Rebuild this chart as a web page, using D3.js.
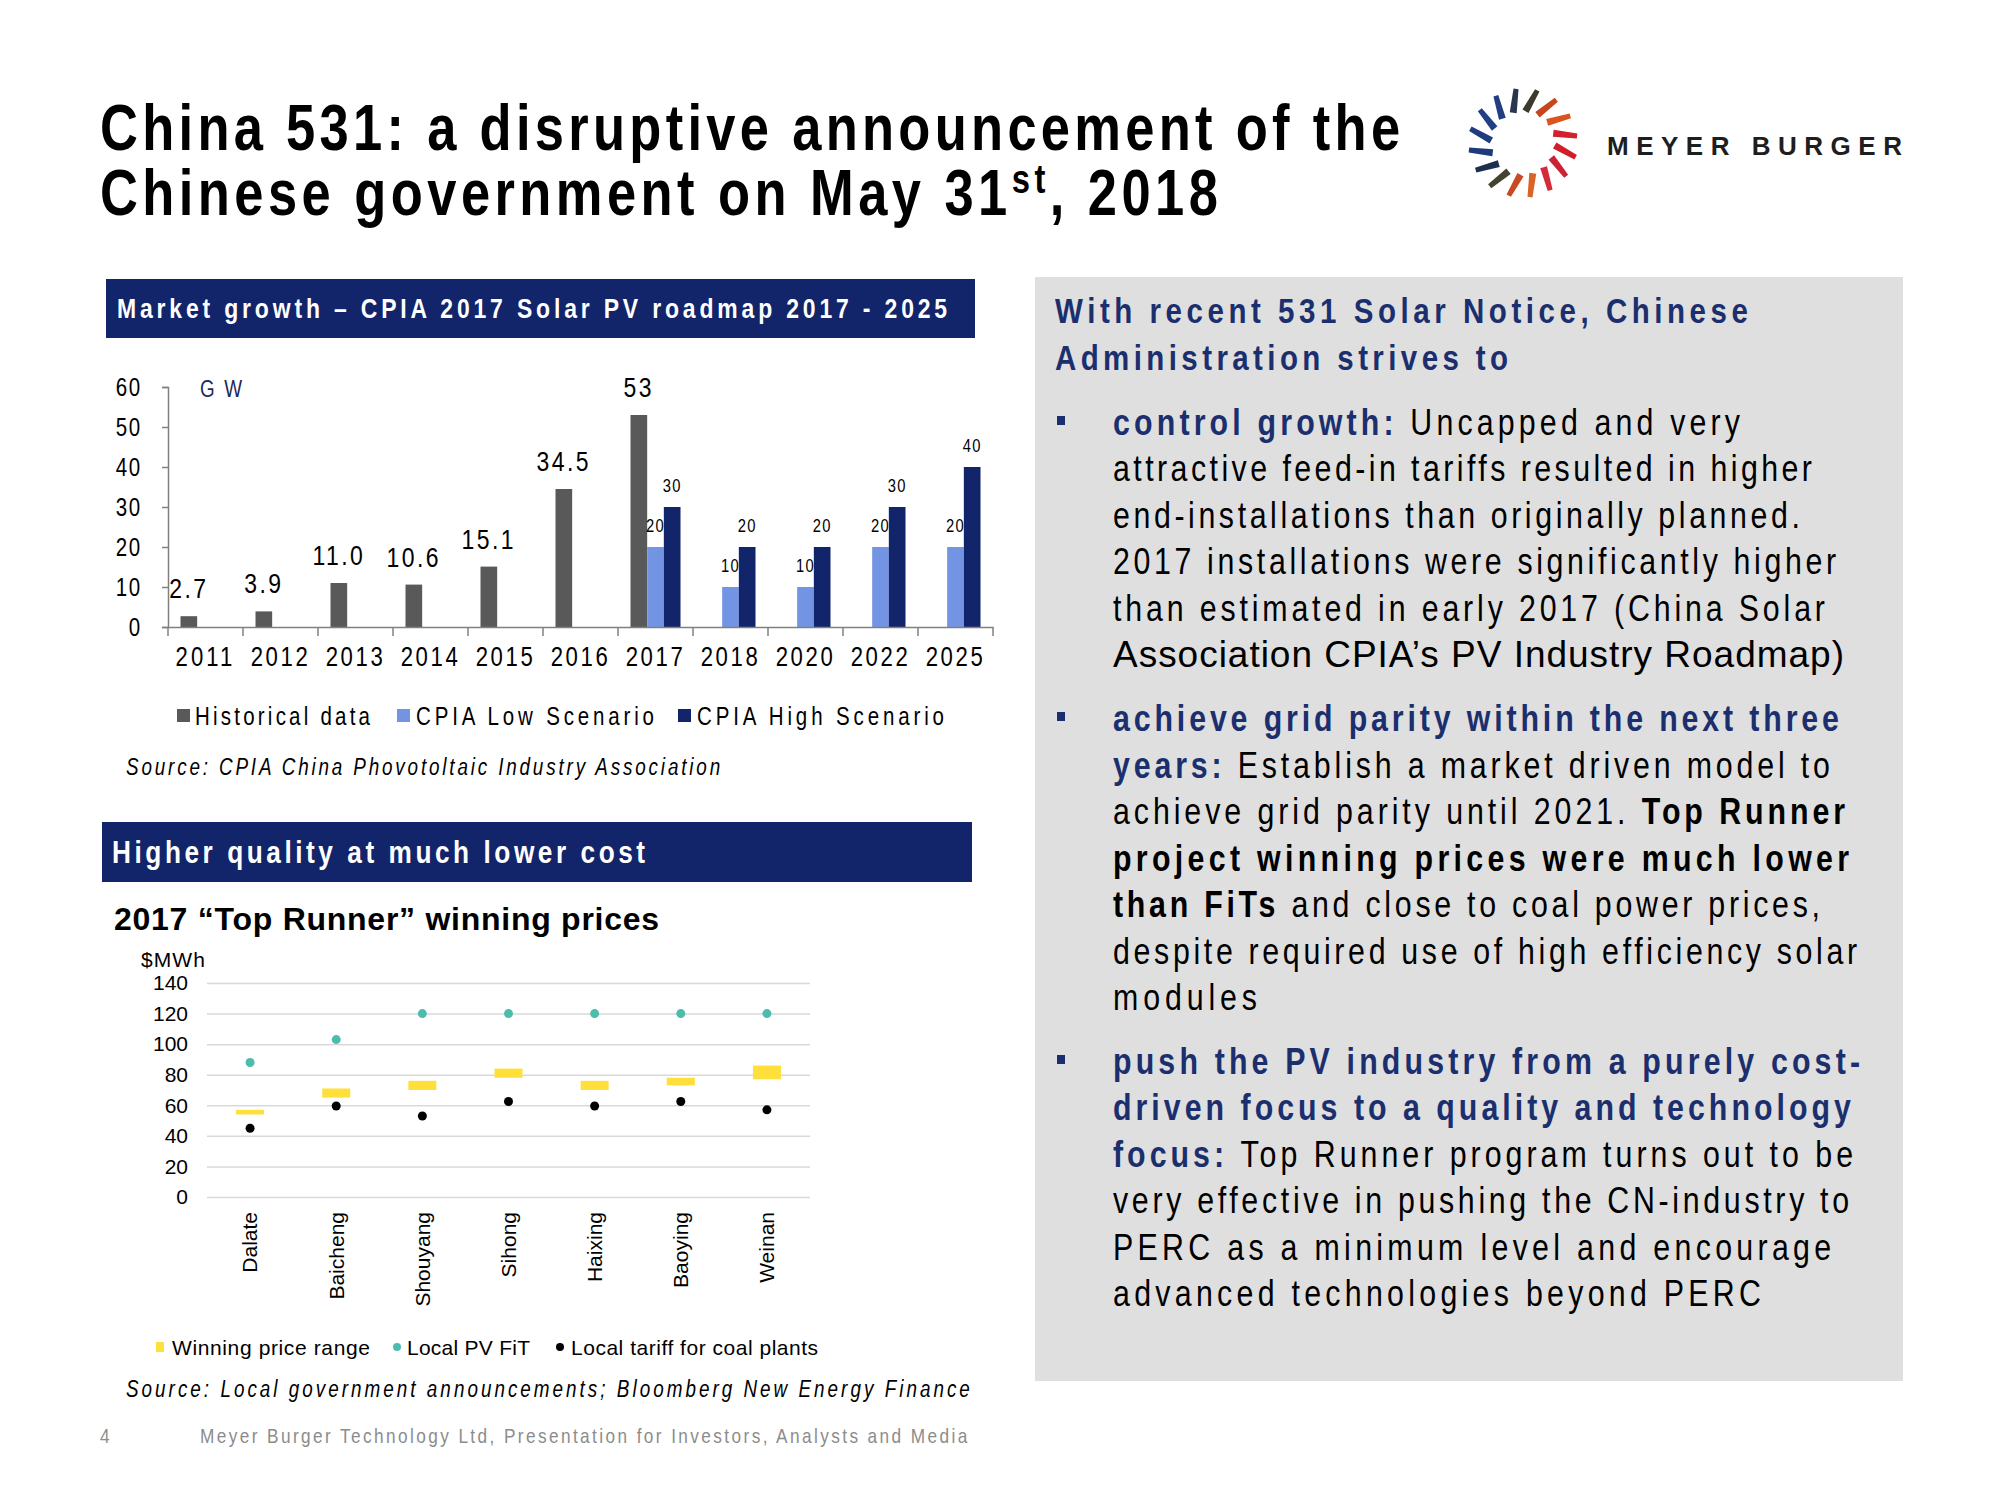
<!DOCTYPE html>
<html>
<head>
<meta charset="utf-8">
<script src="https://cdn.jsdelivr.net/npm/d3@7"></script>
<style>
  body { margin: 0; background: #fff; }
  svg { display: block; }
</style>
</head>
<body>
<svg id="slide" width="2000" height="1500"></svg>
<script>
// ---------------- data ----------------
var years        = ["2011","2012","2013","2014","2015","2016","2017","2018","2020","2022","2025"];
var historical   = [2.7, 3.9, 11.0, 10.6, 15.1, 34.5, 53, null, null, null, null];
var histLabels   = ["2.7","3.9","11.0","10.6","15.1","34.5","53","","","",""];
var lowScenario  = [null, null, null, null, null, null, 20, 10, 10, 20, 20];
var highScenario = [null, null, null, null, null, null, 30, 20, 20, 30, 40];
var gwTicks      = [0, 10, 20, 30, 40, 50, 60];

var sites      = ["Dalate","Baicheng","Shouyang","Sihong","Haixing","Baoying","Weinan"];
var priceLow   = [54, 65, 70, 78, 70, 73, 77];
var priceHigh  = [57, 71, 76, 84, 76, 78, 86];
var pvFit      = [88, 103, 120, 120, 120, 120, 120];
var coalTariff = [45, 59.5, 53, 62.5, 59.5, 62.5, 57];
var priceTicks = [0, 20, 40, 60, 80, 100, 120, 140];

// no Arial Narrow in the sandbox: squeeze Liberation Sans horizontally instead
var SX     = 0.82;
var NARROW = "'Liberation Sans',Arial,sans-serif";
var ARIAL  = "'Liberation Sans',Arial,sans-serif";
var NAVY   = "#12246a";

var svg = d3.select("#slide");
svg.append("rect").attr("width", 2000).attr("height", 1500).attr("fill", "#fff");

// stretch letter spacing so a line covers the width seen on the slide
function fit(t, w) {
  t.attr("letter-spacing", 0);
  var n = t.text().length;
  var nat = t.node().getComputedTextLength();
  t.attr("letter-spacing", ((w - nat) / Math.max(1, n - 1)).toFixed(2));
  return t;
}

function txt(g, x, y, s, size, opts) {
  opts = opts || {};
  var sx = opts.wide ? 1 : SX;
  var t = g.append("g").attr("transform", "translate(" + x + "," + y + ") scale(" + sx + ",1)")
    .append("text")
    .style("font-family", opts.wide ? ARIAL : NARROW)
    .style("font-size", size + "px")
    .style("font-weight", opts.weight || "normal")
    .style("font-style", opts.style || "normal")
    .attr("fill", opts.fill || "#000")
    .attr("text-anchor", opts.anchor || "start")
    .text(s);
  if (opts.w) fit(t, opts.w / sx);
  return t;
}

//////////////////////////////////////////////////////////////
// TITLE + LOGO
//////////////////////////////////////////////////////////////
var title = svg.append("g");
txt(title, 100, 150, "China 531: a disruptive announcement of the", 64, {weight: "bold", w: 1300});
var t2 = title.append("g").attr("transform", "translate(100,215) scale(" + SX + ",1)").append("text")
  .style("font-family", NARROW).style("font-size", "64px").style("font-weight", "bold");
t2.append("tspan").text("Chinese government on May 31");
t2.append("tspan").text("st").style("font-size", "40px").attr("dy", -22);
t2.append("tspan").text(", 2018").attr("dy", 22);
fit(t2, 1118 / SX);

var rayColors = ["#3d3a2c","#c8461e","#d9541e","#d4202a","#d01f2b","#cc2233","#d42a3a","#d9642a",
                 "#c94a20","#45432f","#1d2f50","#1e3a7a","#1f3c80","#203f85","#213e82","#2a3550"];
var logo = svg.append("g").attr("transform", "translate(1523,143)");
rayColors.forEach(function(c, i) {
  var ang = 11.25 + i * 22.5;
  logo.append("g").attr("transform", "rotate(" + ang + ") translate(0,-43) rotate(18)")
    .append("path")
    .attr("d", "M-3.5,12 L3.5,12 L2.5,-12 L-2.5,-12 Z")
    .attr("fill", c);
});
txt(svg, 1607, 155, "MEYER BURGER", 26, {wide: true, weight: "bold", fill: "#1e1e1e", w: 295});

//////////////////////////////////////////////////////////////
// MARKET GROWTH BAR CHART
//////////////////////////////////////////////////////////////
svg.append("rect").attr("x", 106).attr("y", 279).attr("width", 869).attr("height", 59).attr("fill", NAVY);
txt(svg, 117, 318, "Market growth \u2013 CPIA 2017 Solar PV roadmap 2017 - 2025", 28,
    {weight: "bold", fill: "#fff", w: 830});

var x = d3.scaleBand().domain(years).range([168, 993]);
var xs = d3.scaleBand().domain(["hist","low","high"]).range([0, x.bandwidth()]).paddingOuter(0.75);
var y = d3.scaleLinear().domain([0, 60]).range([627, 387]);

var bars = svg.append("g");
var series = [
  {key: "hist", vals: historical,   color: "#595959"},
  {key: "low",  vals: lowScenario,  color: "#7393e3"},
  {key: "high", vals: highScenario, color: "#12256a"}
];
series.forEach(function(s) {
  bars.selectAll(null).data(years.map(function(yr, i) { return {yr: yr, v: s.vals[i]}; })
      .filter(function(d) { return d.v != null; }))
    .join("rect")
    .attr("x", function(d) { return x(d.yr) + xs(s.key); })
    .attr("y", function(d) { return y(d.v); })
    .attr("width", xs.bandwidth())
    .attr("height", function(d) { return y(0) - y(d.v); })
    .attr("fill", s.color);
});

// axes
var yAxis = svg.append("g").attr("transform", "translate(168,0)")
  .call(d3.axisLeft(y).tickValues(gwTicks).tickSize(6).tickPadding(26));
yAxis.select(".domain").attr("stroke", "#808080").attr("stroke-width", 1.5);
yAxis.selectAll(".tick line").attr("stroke", "#808080").attr("stroke-width", 1.5);
yAxis.selectAll(".tick text").style("font-family", NARROW).style("font-size", "25px")
  .attr("letter-spacing", 2).attr("fill", "#000").attr("transform", "scale(" + SX + ",1)");

var xAxis = svg.append("g").attr("transform", "translate(0,627)")
  .call(d3.axisBottom(x).tickSize(0).tickPadding(20));
xAxis.select(".domain").attr("stroke", "#808080").attr("stroke-width", 1.5);
xAxis.selectAll(".tick text").style("font-family", NARROW).style("font-size", "27px")
  .attr("fill", "#000").attr("transform", "scale(" + SX + ",1)")
  .each(function() { fit(d3.select(this), 57 / SX); });
svg.append("g").selectAll("line").data(years.concat(["end"])).join("line")
  .attr("x1", function(d, i) { return 168 + i * x.step(); })
  .attr("x2", function(d, i) { return 168 + i * x.step(); })
  .attr("y1", 627).attr("y2", 636).attr("stroke", "#808080").attr("stroke-width", 1.5);

txt(svg, 200, 397, "GW", 23, {fill: "#1b2a5e", w: 42});

// value labels
svg.append("g").selectAll("text")
  .data(years.map(function(yr, i) { return {yr: yr, v: historical[i], l: histLabels[i]}; })
    .filter(function(d) { return d.v != null; }))
  .join("text")
  .attr("transform", function(d) {
    return "translate(" + (x(d.yr) + xs("hist") + xs.bandwidth() / 2) + "," + (y(d.v) - 18) + ") scale(" + SX + ",1)";
  })
  .attr("text-anchor", "middle")
  .style("font-family", NARROW).style("font-size", "28px").attr("letter-spacing", 3)
  .text(function(d) { return d.l; });

[["low", lowScenario], ["high", highScenario]].forEach(function(s) {
  svg.append("g").selectAll("text")
    .data(years.map(function(yr, i) { return {yr: yr, v: s[1][i]}; })
      .filter(function(d) { return d.v != null; }))
    .join("text")
    .attr("transform", function(d) {
      return "translate(" + (x(d.yr) + xs(s[0]) + xs.bandwidth() / 2) + "," + (y(d.v) - 15) + ") scale(" + SX + ",1)";
    })
    .attr("text-anchor", "middle")
    .style("font-family", NARROW).style("font-size", "18px").attr("letter-spacing", 1.5)
    .text(function(d) { return d.v; });
});

// legend
var leg1 = [["Historical data", "#595959", 177, 195, 175],
            ["CPIA Low Scenario", "#7393e3", 397, 416, 238],
            ["CPIA High Scenario", "#12256a", 678, 697, 247]];
leg1.forEach(function(l) {
  svg.append("rect").attr("x", l[2]).attr("y", 709).attr("width", 13).attr("height", 13).attr("fill", l[1]);
  txt(svg, l[3], 725, l[0], 25, {w: l[4]});
});
txt(svg, 126, 775, "Source: CPIA China Phovotoltaic Industry Association", 23, {style: "italic", w: 594});

//////////////////////////////////////////////////////////////
// TOP RUNNER PRICES
//////////////////////////////////////////////////////////////
svg.append("rect").attr("x", 102).attr("y", 822).attr("width", 870).attr("height", 60).attr("fill", NAVY);
txt(svg, 112, 863, "Higher quality at much lower cost", 32, {weight: "bold", fill: "#fff", w: 533});
txt(svg, 114, 930, "2017 \u201cTop Runner\u201d winning prices", 32, {wide: true, weight: "bold", w: 545});
txt(svg, 141, 967, "$MWh", 21, {wide: true, w: 64});

var px = d3.scaleBand().domain(sites).range([207, 810]);
var py = d3.scaleLinear().domain([0, 140]).range([1197, 983]);

var grid = svg.append("g").attr("transform", "translate(207,0)")
  .call(d3.axisLeft(py).tickValues(priceTicks).tickSize(-603).tickPadding(19));
grid.select(".domain").remove();
grid.selectAll(".tick line").attr("stroke", "#d9d9d9").attr("stroke-width", 1.5);
grid.selectAll(".tick text").style("font-family", ARIAL).style("font-size", "21px").attr("fill", "#000");

svg.append("g").selectAll("text").data(sites).join("text")
  .attr("transform", function(d) { return "translate(" + (px(d) + px.bandwidth() / 2) + ",1212) rotate(-90)"; })
  .attr("dy", "0.35em")
  .attr("text-anchor", "end")
  .style("font-family", ARIAL).style("font-size", "21px")
  .text(function(d) { return d; });

var rw = 28;
svg.append("g").selectAll("rect").data(sites).join("rect")
  .attr("x", function(d) { return px(d) + px.bandwidth() / 2 - rw / 2; })
  .attr("y", function(d, i) { return py(priceHigh[i]); })
  .attr("width", rw)
  .attr("height", function(d, i) { return py(priceLow[i]) - py(priceHigh[i]); })
  .attr("fill", "#ffe03a");

svg.append("g").selectAll("circle").data(sites).join("circle")
  .attr("cx", function(d) { return px(d) + px.bandwidth() / 2; })
  .attr("cy", function(d, i) { return py(pvFit[i]); })
  .attr("r", 4.5).attr("fill", "#4cbcac");

svg.append("g").selectAll("circle").data(sites).join("circle")
  .attr("cx", function(d) { return px(d) + px.bandwidth() / 2; })
  .attr("cy", function(d, i) { return py(coalTariff[i]); })
  .attr("r", 4.5).attr("fill", "#000");

svg.append("rect").attr("x", 156).attr("y", 1342).attr("width", 8).attr("height", 10).attr("fill", "#ffe03a");
txt(svg, 172, 1355, "Winning price range", 21, {wide: true, w: 198});
svg.append("circle").attr("cx", 397).attr("cy", 1347).attr("r", 4).attr("fill", "#4cbcac");
txt(svg, 407, 1355, "Local PV FiT", 21, {wide: true, w: 123});
svg.append("circle").attr("cx", 560).attr("cy", 1347).attr("r", 4).attr("fill", "#000");
txt(svg, 571, 1355, "Local tariff for coal plants", 21, {wide: true, w: 247});

txt(svg, 126, 1397, "Source: Local government announcements; Bloomberg New Energy Finance", 23,
    {style: "italic", w: 844});

//////////////////////////////////////////////////////////////
// RIGHT PANEL
//////////////////////////////////////////////////////////////
svg.append("rect").attr("x", 1035).attr("y", 277).attr("width", 868).attr("height", 1104).attr("fill", "#dfdfdf");
txt(svg, 1055, 323, "With recent 531 Solar Notice, Chinese", 36, {weight: "bold", fill: "#1b2f6e", w: 693});
txt(svg, 1055, 370, "Administration strives to", 36, {weight: "bold", fill: "#1b2f6e", w: 453});

var panelLines = [
  [["control growth: ", "h"], ["Uncapped and very", "n"]],
  [["attractive feed-in tariffs resulted in higher", "n"]],
  [["end-installations than originally planned.", "n"]],
  [["2017 installations were significantly higher", "n"]],
  [["than estimated in early 2017 (China Solar", "n"]],
  [["Association CPIA\u2019s PV Industry Roadmap)", "a"]],
  [["achieve grid parity within the next three", "h"]],
  [["years: ", "h"], ["Establish a market driven model to", "n"]],
  [["achieve grid parity until 2021. ", "n"], ["Top Runner", "b"]],
  [["project winning prices were much lower", "b"]],
  [["than FiTs", "b"], [" and close to coal power prices,", "n"]],
  [["despite required use of high efficiency solar", "n"]],
  [["modules", "n"]],
  [["push the PV industry from a purely cost-", "h"]],
  [["driven focus to a quality and technology", "h"]],
  [["focus: ", "h"], ["Top Runner program turns out to be", "n"]],
  [["very effective in pushing the CN-industry to", "n"]],
  [["PERC as a minimum level and encourage", "n"]],
  [["advanced technologies beyond PERC", "n"]]
];
var lineY = [435, 481, 528, 574, 621, 667, 731, 778, 824, 871, 917, 964, 1010, 1074, 1120, 1167, 1213, 1260, 1306];
var lineW = [627, 699, 687, 723, 712, 731, 726, 717, 732, 736, 707, 744, 144, 747, 738, 740, 736, 718, 648];
var bulletAt = [0, 6, 13];

panelLines.forEach(function(segs, i) {
  var wide = segs[0][1] == "a";
  var sx = wide ? 1 : SX;
  var t = svg.append("g").attr("transform", "translate(1113," + lineY[i] + ") scale(" + sx + ",1)")
    .append("text")
    .style("font-family", wide ? ARIAL : NARROW).style("font-size", "37px");
  segs.forEach(function(s) {
    var sp = t.append("tspan").text(s[0]);
    if (s[1] == "h") sp.style("font-weight", "bold").attr("fill", "#1b2f6e");
    if (s[1] == "b") sp.style("font-weight", "bold").attr("fill", "#000");
  });
  fit(t, lineW[i] / sx);
});
bulletAt.forEach(function(i) {
  svg.append("rect").attr("x", 1057).attr("y", lineY[i] - 19).attr("width", 8).attr("height", 9).attr("fill", "#1b2f6e");
});

//////////////////////////////////////////////////////////////
// FOOTER
//////////////////////////////////////////////////////////////
txt(svg, 100, 1443, "4", 21, {fill: "#8c8c8c"});
txt(svg, 200, 1443, "Meyer Burger Technology Ltd, Presentation for Investors, Analysts and Media", 21,
    {fill: "#8c8c8c", w: 767});
</script>
</body>
</html>
